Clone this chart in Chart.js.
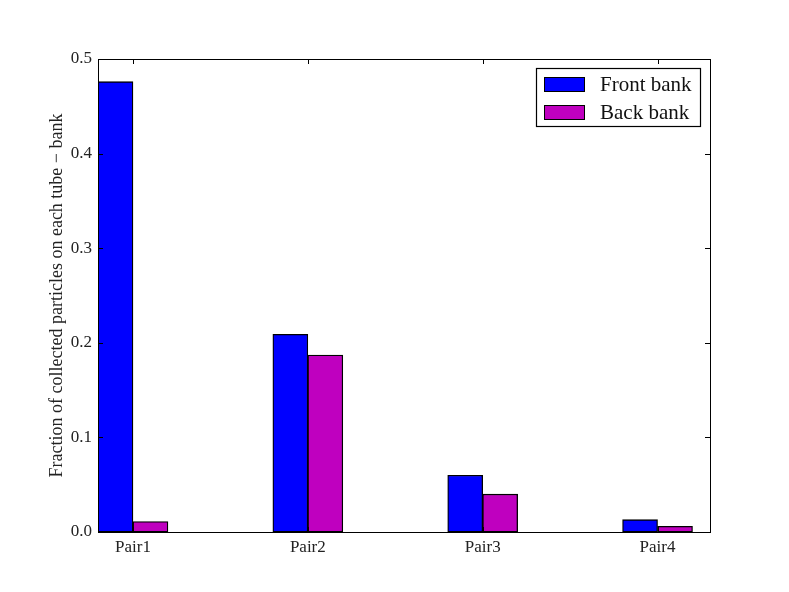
<!DOCTYPE html>
<html>
<head>
<meta charset="utf-8">
<script src="https://cdn.jsdelivr.net/npm/chart.js@4/dist/chart.umd.min.js"></script>
<style>
  html, body { margin: 0; padding: 0; background: #fff; }
  #wrap { width: 789px; height: 592px; }
</style>
</head>
<body>
<div id="wrap"><canvas id="barChart" width="789" height="592"></canvas></div>
<script>
// --- data ---
const pairs = ['Pair1', 'Pair2', 'Pair3', 'Pair4'];
const frontBank = [0.476, 0.209, 0.060, 0.013];
const backBank = [0.011, 0.187, 0.040, 0.006];
const yTicks = [0.0, 0.1, 0.2, 0.3, 0.4, 0.5];

const SERIF = '"Liberation Serif", "DejaVu Serif", serif';
const BAR_W = 0.2; // bar width in x units (matplotlib style)

// bars sit side by side starting at each integer position
function toPoints(values, slot) {
    return values.map((v, i) => ({ x: i + BAR_W * slot + BAR_W / 2, y: v }));
}

// inward tick marks on all four sides + the black frame
const frameTicks = {
    id: 'frameTicks',
    afterDraw(chart) {
        const { ctx, chartArea: a, scales } = chart;
        const len = 5;
        ctx.save();
        ctx.strokeStyle = '#000';
        ctx.lineWidth = 1;
        ctx.beginPath();
        scales.x.ticks.forEach(t => {
            const px = Math.round(scales.x.getPixelForValue(t.value)) + 0.5;
            ctx.moveTo(px, a.bottom); ctx.lineTo(px, a.bottom - len);
            ctx.moveTo(px, a.top); ctx.lineTo(px, a.top + len);
        });
        scales.y.ticks.forEach(t => {
            const py = Math.round(scales.y.getPixelForValue(t.value)) + 0.5;
            ctx.moveTo(a.left, py); ctx.lineTo(a.left + len, py);
            ctx.moveTo(a.right, py); ctx.lineTo(a.right - len, py);
        });
        ctx.stroke();
        ctx.strokeRect(Math.round(a.left) + 0.5, Math.round(a.top) + 0.5,
            Math.round(a.right - a.left), Math.round(a.bottom - a.top));
        ctx.restore();
    }
};

// boxed legend in the upper right corner of the plot
const boxLegend = {
    id: 'boxLegend',
    afterDraw(chart) {
        const { ctx, chartArea: a } = chart;
        const sets = chart.data.datasets;
        ctx.save();
        ctx.font = '21px ' + SERIF;
        const textW = Math.max(...sets.map(d => ctx.measureText(d.label).width));
        const patchW = 40, patchH = 14, rowH = 28, pad = 8, gap = 16;
        const w = pad + patchW + gap + textW + pad;
        const h = rowH * sets.length + 2;
        const right = Math.round(a.right) - 10;
        const top = Math.round(a.top) + 9;
        const left = right - Math.round(w);
        ctx.fillStyle = '#fff';
        ctx.fillRect(left, top, right - left, h);
        ctx.strokeStyle = '#000';
        ctx.lineWidth = 1.2;
        ctx.strokeRect(left + 0.5, top + 0.5, right - left, h);
        sets.forEach((d, i) => {
            const cy = top + 16 + i * rowH;
            ctx.fillStyle = d.backgroundColor;
            ctx.fillRect(left + pad, cy - patchH / 2, patchW, patchH);
            ctx.lineWidth = 1;
            ctx.strokeRect(left + pad + 0.5, cy - patchH / 2 + 0.5, patchW, patchH);
            ctx.fillStyle = '#111';
            ctx.textBaseline = 'middle';
            ctx.textAlign = 'left';
            ctx.fillText(d.label, left + pad + patchW + gap, cy + 1);
        });
        ctx.restore();
    }
};

const canvas = document.getElementById('barChart');
new Chart(canvas.getContext('2d'), {
    type: 'bar',
    data: {
        datasets: [
            {
                label: 'Front bank',
                data: toPoints(frontBank, 0),
                backgroundColor: '#0000ff',
                borderColor: '#000',
                borderWidth: 1.3,
                borderSkipped: false
            },
            {
                label: 'Back bank',
                data: toPoints(backBank, 1),
                backgroundColor: '#bf00bf',
                borderColor: '#000',
                borderWidth: 1.3,
                borderSkipped: false
            }
        ]
    },
    options: {
        responsive: false,
        animation: false,
        categoryPercentage: 1,
        barPercentage: 1,
        layout: { padding: { left: 0, top: 59, right: 79, bottom: 0 } },
        plugins: {
            legend: { display: false },
            tooltip: { enabled: false }
        },
        scales: {
            x: {
                type: 'linear',
                min: 0,
                max: 3.5,
                offset: false,
                stacked: true,
                grid: { display: false, drawTicks: false },
                border: { display: false },
                afterBuildTicks: scale => {
                    scale.ticks = pairs.map((p, i) => ({ value: i + BAR_W }));
                },
                afterFit: scale => { scale.height = 60; },
                ticks: {
                    autoSkip: false,
                    maxRotation: 0,
                    padding: 5,
                    color: '#222',
                    font: { family: SERIF, size: 17 },
                    callback: (value, index) => pairs[index]
                }
            },
            y: {
                min: 0,
                max: 0.5,
                stacked: true,
                grid: { display: false, drawTicks: false },
                border: { display: false },
                afterBuildTicks: scale => {
                    scale.ticks = yTicks.map(v => ({ value: v }));
                },
                afterFit: scale => { scale.width = 98; },
                ticks: {
                    padding: 6,
                    color: '#222',
                    font: { family: SERIF, size: 17 },
                    callback: value => value.toFixed(1)
                },
                title: {
                    display: true,
                    text: 'Fraction of collected particles on each tube \u2212 bank',
                    color: '#222',
                    font: { family: SERIF, size: 18 },
                    padding: { top: 46 }
                }
            }
        }
    },
    plugins: [frameTicks, boxLegend]
});
</script>
</body>
</html>
